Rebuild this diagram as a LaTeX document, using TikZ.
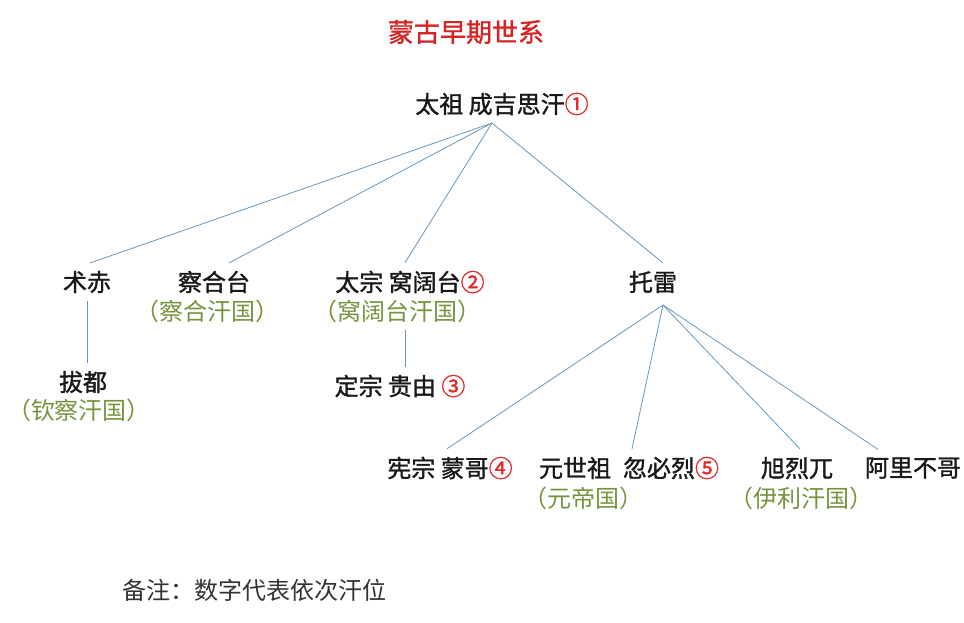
\documentclass[tikz,border=0pt]{standalone}
\usepackage{fontspec}
\setmainfont{Noto Sans CJK SC}
\newfontfamily\heavycjk{Noto Sans CJK SC}[FakeBold=1.3]
\usepackage{xcolor}

\definecolor{titlered}{RGB}{212,36,36}
\definecolor{numred}{RGB}{226,40,40}
\definecolor{khangreen}{RGB}{118,148,62}
\definecolor{linkblue}{RGB}{104,150,186}
\newcommand{\khan}[1]{\textcolor{numred}{#1}}

\begin{document}
\begin{tikzpicture}[x=1pt, y=-1pt,
    person/.style={font=\heavycjk\fontsize{24}{28}\selectfont, text=black!90, inner sep=1pt, outer sep=7pt},
    khanate/.style={font=\fontsize{24}{28}\selectfont, text=khangreen, inner sep=1pt, outer sep=7pt},
    link/.style={draw=linkblue, line width=0.8pt}
]
    \useasboundingbox (0,0) rectangle (964,622);

    % Title
    \node[font=\heavycjk\fontsize{26}{30}\selectfont, text=titlered] (title) at (466,32) {蒙古早期世系};

    % Genghis Khan
    \node[person] (genghis) at (502,104) {太祖 成吉思汗\khan{①}};
    \coordinate (genghisjoin) at (492,123);

    % Sons of Genghis Khan
    \node[person] (jochi) at (87,282) {术赤};
    \node[person] (chagatai) at (214,282) {察合台};
    \node[khanate] (chagataikh) at (207,311) {（察合汗国）};
    \node[person] (ogedei) at (410,282) {太宗 窝阔台\khan{②}};
    \node[khanate] (ogedeikh) at (397,311) {（窝阔台汗国）};
    \node[person] (tolui) at (653,282) {托雷};
    \coordinate (toluijoin) at (663,305);

    % Grandsons
    \node[person] (batu) at (83,382) {拔都};
    \node[khanate] (batukh) at (79,410) {（钦察汗国）};
    \node[person] (guyuk) at (400,386) {定宗 贵由 \khan{③}};
    \node[person] (mongke) at (450,468) {宪宗 蒙哥\khan{④}};
    \node[person] (kublai) at (629,468) {元世祖\hspace{0.5em}忽必烈\khan{⑤}};
    \node[khanate] (kublaikh) at (583,498) {（元帝国）};
    \node[person] (hulagu) at (797,468) {旭烈兀};
    \node[khanate] (hulagukh) at (801,498) {（伊利汗国）};
    \node[person] (ariqboke) at (913,468) {阿里不哥};

    % Note
    \node[font=\fontsize{24}{28}\selectfont, text=black!80] (note) at (254,590) {备注：数字代表依次汗位};

    % Connectors
    \draw[link] (genghisjoin) -- ([xshift=3]jochi.north);
    \draw[link] (genghisjoin) -- ([xshift=15]chagatai.north);
    \draw[link] (genghisjoin) -- ([xshift=-5]ogedei.north);
    \draw[link] (genghisjoin) -- ([xshift=10]tolui.north);
    \draw[link] (jochi.south) -- (jochi.south |- batu.north);
    \draw[link] ([xshift=8.5]ogedeikh.south) -- ([xshift=8.5]ogedeikh.south |- guyuk.north);
    \draw[link] (toluijoin) -- ([xshift=-3]mongke.north);
    \draw[link] (toluijoin) -- ([xshift=3]kublai.north);
    \draw[link] (toluijoin) -- ([xshift=3]hulagu.north);
    \draw[link] (toluijoin) -- ([xshift=-35]ariqboke.north);

\end{tikzpicture}
\end{document}
